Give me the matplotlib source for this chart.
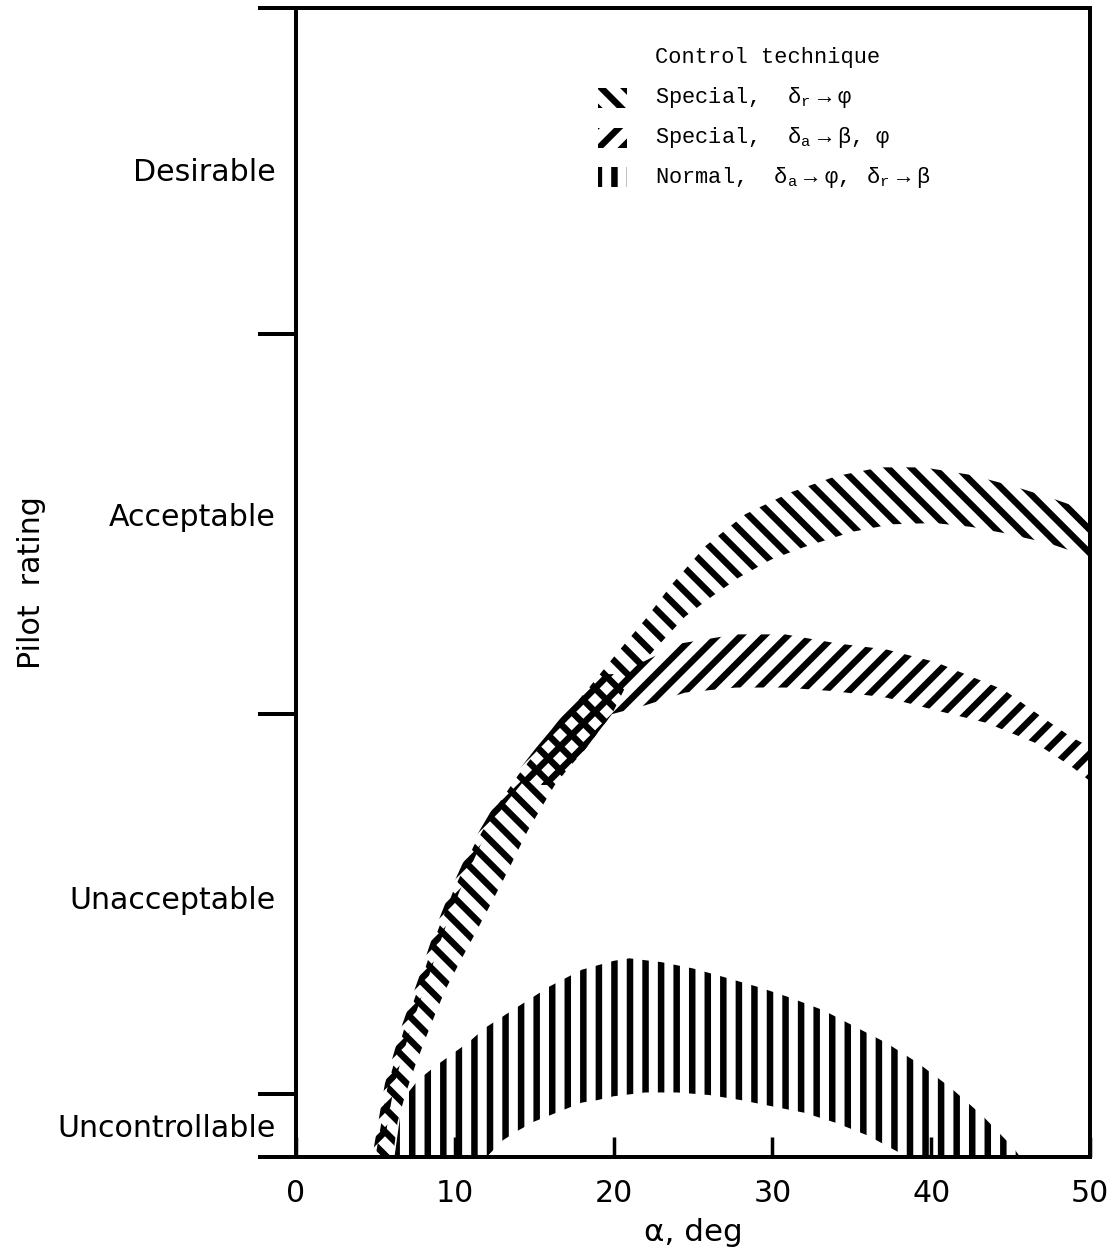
import matplotlib
matplotlib.use('Agg')
import matplotlib.pyplot as plt
from matplotlib.patches import Rectangle

# Band edges, angle of attack (deg) vs pilot rating (10 = uncontrollable).
# Special, rudder -> roll
rud_top_x = [5.0, 5.8, 6.9, 8.0, 8.9, 9.9, 11.2, 12.7, 14.0, 15.3, 16.3, 17.3, 18.2, 19.1,
             20.0, 21.0, 22.0, 23.7, 25.8, 28.3, 31.1, 34.0, 36.8, 39.5, 42.5, 45.2, 47.5, 50.0]
rud_top_y = [10.0, 9.42, 8.95, 8.56, 8.22, 7.90, 7.54, 7.22, 6.98, 6.77, 6.62, 6.46, 6.33, 6.19,
             6.05, 5.90, 5.75, 5.47, 5.17, 4.92, 4.75, 4.62, 4.55, 4.55, 4.61, 4.70, 4.79, 4.90]
rud_bot_x = [6.1, 6.4, 6.9, 7.5, 8.2, 8.8, 9.4, 10.4, 11.3, 12.1, 13.1, 14.6, 16.3, 17.2, 18.2,
             19.1, 19.9, 21.0, 22.5, 24.5, 26.2, 27.9, 29.9, 32.0, 35.0, 37.5, 40.2, 42.5, 44.6,
             47.4, 50.0]
rud_bot_y = [10.0, 9.72, 9.50, 9.28, 9.05, 8.86, 8.68, 8.44, 8.23, 8.04, 7.80, 7.42, 7.06, 6.92,
             6.78, 6.63, 6.50, 6.22, 6.00, 5.73, 5.57, 5.42, 5.28, 5.18, 5.06, 5.00, 4.99, 5.02,
             5.07, 5.15, 5.26]

# Special, aileron -> sideslip and roll
ail_top_x = [4.8, 5.6, 6.7, 7.8, 8.7, 9.7, 11.0, 12.5, 13.8, 15.1, 16.1, 17.1, 18.0, 19.0,
             20.5, 21.8, 24.3, 27.7, 30.8, 34.0, 37.2, 40.3, 44.6, 46.6, 48.8, 50.0]
ail_top_y = [10.0, 9.42, 8.95, 8.56, 8.22, 7.90, 7.54, 7.22, 6.98, 6.77, 6.62, 6.46, 6.33, 6.19,
             6.18, 6.09, 5.94, 5.87, 5.87, 5.94, 5.99, 6.09, 6.31, 6.49, 6.68, 6.76]
ail_bot_x = [5.4, 6.2, 7.3, 8.4, 9.3, 10.3, 11.6, 13.1, 14.4, 15.5, 16.3, 17.2, 18.2, 19.1,
             19.9, 22.0, 24.5, 27.7, 30.8, 34.0, 37.2, 40.3, 43.5, 46.6, 49.0, 50.0]
ail_bot_y = [10.0, 9.42, 8.95, 8.56, 8.22, 7.90, 7.54, 7.22, 7.02, 7.06, 7.06, 6.92, 6.78, 6.63,
             6.50, 6.43, 6.33, 6.29, 6.29, 6.32, 6.37, 6.47, 6.57, 6.73, 6.93, 7.03]

# Normal control
nrm_top_x = [6.2, 6.7, 7.7, 8.8, 9.9, 10.9, 11.9, 14.0, 16.0, 18.0, 20.0, 21.0, 23.0, 25.0,
             27.0, 29.2, 31.1, 33.2, 35.2, 37.2, 39.2, 41.2, 43.2, 45.2, 45.6]
nrm_top_y = [10.0, 9.55, 9.39, 9.28, 9.18, 9.09, 8.98, 8.81, 8.65, 8.52, 8.45, 8.43, 8.46, 8.51,
             8.58, 8.66, 8.74, 8.84, 8.97, 9.10, 9.26, 9.45, 9.67, 9.93, 10.0]
nrm_bot_x = [12.0, 13.0, 14.0, 15.0, 16.0, 17.0, 18.0, 19.0, 20.0, 22.0, 24.0, 26.0, 28.0,
             30.0, 32.0, 34.0, 36.0, 38.5]
nrm_bot_y = [10.0, 9.87, 9.79, 9.72, 9.67, 9.62, 9.57, 9.55, 9.52, 9.49, 9.49, 9.51, 9.55,
             9.60, 9.65, 9.73, 9.83, 10.0]

rating_bounds = [0.92, 3.5, 6.5, 9.5, 10.0]
rating_names = ['Desirable', 'Acceptable', 'Unacceptable', 'Uncontrollable']
rating_label_pos = [2.2, 4.92, 7.95, 9.75]
alpha_ticks = [0, 10, 20, 30, 40, 50]

legend_title = 'Control technique'
legend_labels = [
    r'Special,  $\delta_\mathrm{r}\ \rightarrow\ \varphi$',
    r'Special,  $\delta_\mathrm{a}\ \rightarrow\ \beta,\ \ \varphi$',
    r'Normal,  $\delta_\mathrm{a}\ \rightarrow\ \varphi,\ \ \ \delta_\mathrm{r}\ \rightarrow\ \beta$',
]
# four diagonal strokes per hatch string to get about the same spacing
# as the three vertical ones
legend_hatches = ['\\' * 4, '/' * 4, '|||']

DPI = 280
PT = 72 / DPI  # one pixel, in points

plt.rcParams['font.family'] = 'DejaVu Sans'
plt.rcParams['hatch.linewidth'] = 6.5 * PT
plt.rcParams['mathtext.fontset'] = 'custom'
plt.rcParams['mathtext.rm'] = 'Liberation Mono'
plt.rcParams['mathtext.it'] = 'Liberation Mono'

fig = plt.figure(figsize=(1114 / DPI, 1248 / DPI), dpi=DPI)
ax = fig.add_axes([296 / 1114, 91 / 1248, 794 / 1114, 1149 / 1248])


def band(top_x, top_y, bot_x, bot_y, hatch):
    xs = list(top_x) + list(bot_x)[::-1]
    ys = list(top_y) + list(bot_y)[::-1]
    return ax.fill(xs, ys, facecolor='none', edgecolor='black',
                   linewidth=0, hatch=hatch)[0]


band(rud_top_x, rud_top_y, rud_bot_x, rud_bot_y, legend_hatches[0])
band(ail_top_x, ail_top_y, ail_bot_x, ail_bot_y, legend_hatches[1])
band(nrm_top_x, nrm_top_y, nrm_bot_x, nrm_bot_y, legend_hatches[2])

ax.set_xlim(0, 50)
ax.set_ylim(rating_bounds[-1], rating_bounds[0])

for sp in ax.spines.values():
    sp.set_linewidth(4 * PT)
    sp.set_zorder(5)

ax.set_xticks(alpha_ticks)
ax.tick_params(axis='x', direction='in', length=20 * PT, width=3.5 * PT,
               pad=22 * PT, labelsize=30 * PT)
ax.set_yticks(rating_bounds, labels=[''] * len(rating_bounds))
ax.tick_params(axis='y', which='major', direction='out', length=38 * PT,
               width=4 * PT)
ax.set_yticks(rating_label_pos, labels=rating_names, minor=True)
ax.tick_params(axis='y', which='minor', length=0, pad=20 * PT,
               labelsize=30 * PT)

ax.set_xlabel('α, deg', fontsize=31 * PT, labelpad=10 * PT)
ax.set_ylabel('Pilot  rating', fontsize=30 * PT, labelpad=12 * PT)

# key in the upper part of the plot
mono = dict(family='Liberation Mono', fontsize=22 * PT, va='center',
            transform=ax.transAxes)
ax.text(0.452, 0.957, legend_title, **mono)
for i, (hatch, label) in enumerate(zip(legend_hatches, legend_labels)):
    yc = 0.9217 - i * 0.0345
    ax.add_patch(Rectangle((0.380, yc - 0.0087), 0.037, 0.0174,
                           transform=ax.transAxes, facecolor='none',
                           edgecolor='black', linewidth=0, hatch=hatch))
    ax.text(0.452, yc, label, **mono)

fig.savefig('out.png', dpi=DPI)
